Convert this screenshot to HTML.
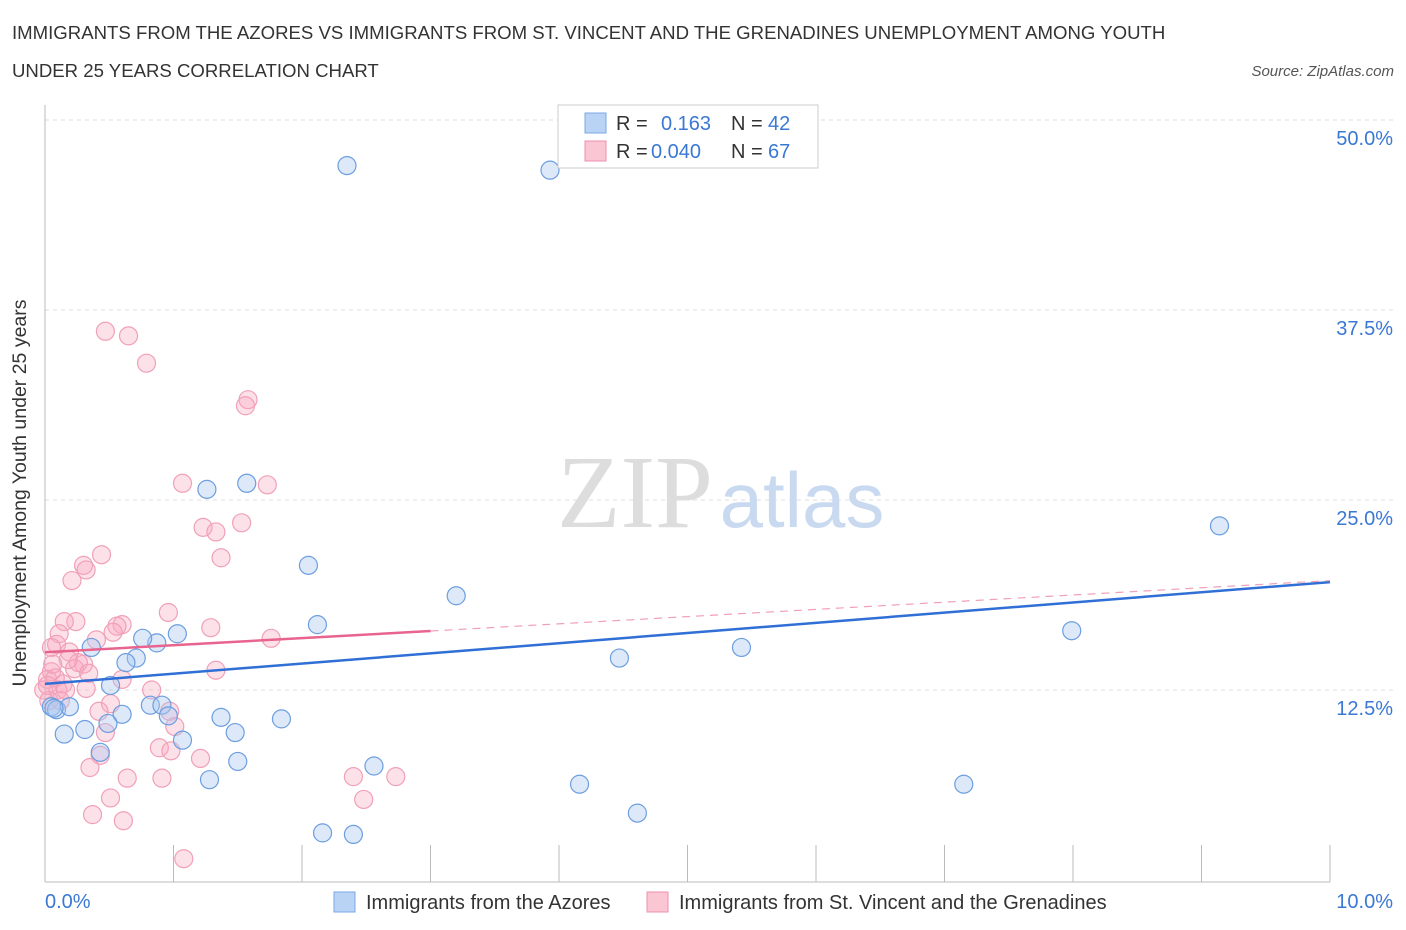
<!DOCTYPE html>
<html><head><meta charset="utf-8"><style>
body{margin:0;background:#fff;font-family:"Liberation Sans",sans-serif;}
#wrap{position:relative;width:1406px;height:930px;overflow:hidden;}
</style></head><body>
<div id="wrap">
<svg id="chart" width="1406" height="930" xmlns="http://www.w3.org/2000/svg">
<text x="12" y="39" font-size="18.6" fill="#333">IMMIGRANTS FROM THE AZORES VS IMMIGRANTS FROM ST. VINCENT AND THE GRENADINES UNEMPLOYMENT AMONG YOUTH</text>
<text x="12" y="77" font-size="18.6" fill="#333">UNDER 25 YEARS CORRELATION CHART</text>
<text x="1394" y="76" font-size="15" fill="#555" font-style="italic" text-anchor="end">Source: ZipAtlas.com</text>
<text x="26" y="493" font-size="19.5" fill="#333" text-anchor="middle" transform="rotate(-90 26 493)">Unemployment Among Youth under 25 years</text>
<g id="grid"></g>
<text x="635" y="527" font-size="104" fill="#ddd" font-family="Liberation Serif,serif" text-anchor="middle">ZIP</text>
<text x="802" y="527" font-size="78" fill="#c9daf0" text-anchor="middle">atlas</text>
<g id="marks"></g>
<g id="lines"></g>
<g>
<rect x="558" y="105" width="260" height="63" fill="#fff" stroke="#ccc"/>
<rect x="585" y="113" width="21" height="20" fill="#b9d3f5" stroke="#7aa7e6"/>
<rect x="585" y="141" width="21" height="20" fill="#fbc6d4" stroke="#ee8fab"/>
<text x="616" y="130" font-size="20" fill="#333">R =</text><text x="661" y="130" font-size="20" fill="#3a78d4">0.163</text>
<text x="731" y="130" font-size="20" fill="#333">N =</text><text x="768" y="130" font-size="20" fill="#3a78d4">42</text>
<text x="616" y="158" font-size="20" fill="#333">R =</text><text x="651" y="158" font-size="20" fill="#3a78d4">0.040</text>
<text x="731" y="158" font-size="20" fill="#333">N =</text><text x="768" y="158" font-size="20" fill="#3a78d4">67</text>
</g>
<g>
<rect x="334" y="892" width="21" height="20" fill="#b9d3f5" stroke="#7aa7e6"/>
<text x="366" y="909" font-size="20" fill="#333">Immigrants from the Azores</text>
<rect x="647" y="892" width="21" height="20" fill="#fbc6d4" stroke="#ee8fab"/>
<text x="679" y="909" font-size="20" fill="#333">Immigrants from St. Vincent and the Grenadines</text>
</g>
</svg>
</div>
<script>
const xTicks=[0,1,2,3,4,5,6,7,8,9,10];
const yTicks=[12.5,25,37.5,50];
const yTickLabels=["12.5%","25.0%","37.5%","50.0%"];
const azoresX=[2.35,3.93,1.26,1.57,2.05,3.2,9.14,7.99,5.42,4.47,2.12,1.03,0.87,0.76,0.36,0.71,0.63,0.51,0.05,0.09,0.19,0.6,0.82,0.91,0.96,1.37,1.84,0.49,0.31,0.15,1.48,1.07,0.43,1.5,2.56,1.28,4.16,7.15,4.61,2.16,2.4,0.07];
const azoresY=[47.0,46.7,25.7,26.1,20.7,18.7,23.3,16.4,15.3,14.6,16.8,16.2,15.6,15.9,15.3,14.6,14.3,12.8,11.4,11.2,11.4,10.9,11.5,11.5,10.8,10.7,10.6,10.3,9.9,9.6,9.7,9.2,8.4,7.8,7.5,6.6,6.3,6.3,4.4,3.1,3.0,11.3];
const vincentX=[0.47,0.65,0.79,1.58,1.56,1.07,1.73,1.53,1.23,1.33,1.37,0.44,0.3,0.21,0.32,0.96,1.29,0.6,0.56,0.24,0.15,0.11,0.4,0.53,1.76,0.09,0.05,0.19,0.3,0.23,0.26,0.18,0.34,0.05,0.02,0.08,0.14,0.1,0.32,0.83,1.33,0.6,-0.01,0.02,0.51,0.42,0.97,1.01,0.47,0.89,0.98,1.21,0.43,0.35,0.64,0.91,2.4,2.73,0.51,2.48,0.37,0.61,1.08,0.03,0.12,0.16,0.06];
const vincentY=[36.1,35.8,34.0,31.6,31.2,26.1,26.0,23.5,23.2,22.9,21.2,21.4,20.7,19.7,20.4,17.6,16.6,16.8,16.7,17.0,17.0,16.2,15.8,16.3,15.9,15.5,15.3,15.0,14.2,13.9,14.3,14.5,13.6,13.7,13.2,13.3,12.9,12.5,12.6,12.5,13.8,13.2,12.5,12.8,11.6,11.1,11.1,10.1,9.7,8.7,8.5,8.0,8.2,7.4,6.7,6.7,6.8,6.8,5.4,5.3,4.3,3.9,1.4,11.8,11.8,12.5,14.2];
const azoresTrend=[12.9,19.6];
const vincentTrend=[14.98,16.38,19.7];
const NS="http://www.w3.org/2000/svg";
const X0=45,X1=1330,Y0=880,YS=15.2;
function sx(v){return X0+(X1-X0)*v/10;}
function sy(v){return Y0-v*YS;}
function mk(t,a,p){const e=document.createElementNS(NS,t);for(const k in a)e.setAttribute(k,a[k]);p.appendChild(e);return e;}
const grid=document.getElementById('grid');
yTicks.forEach((t,i)=>{
 const l=mk('line',{x1:X0,x2:1395,y1:sy(t),y2:sy(t),stroke:'#ddd','stroke-dasharray':'4,4'},grid);
 
 
 const tx=mk('text',{x:1393,y:sy(t)+25,'font-size':20,fill:'#3a78d4','text-anchor':'end'},grid);
 tx.textContent=yTickLabels[i];
 
 
});
const ax=mk('line',{x1:X0,x2:X1,y1:882,y2:882,stroke:'#bbb'},grid);


const ay=mk('line',{x1:X0,x2:X0,y1:105,y2:882,stroke:'#bbb'},grid);


xTicks.forEach(t=>{
 const l=mk('line',{x1:sx(t),x2:sx(t),y1:845,y2:882,stroke:'#bbb'},grid);
 
 
});
const xl0=mk('text',{x:45,y:908,'font-size':20,fill:'#3a78d4'},grid);xl0.textContent='0.0%';


const xl1=mk('text',{x:1393,y:908,'font-size':20,fill:'#3a78d4','text-anchor':'end'},grid);xl1.textContent='10.0%';


const marks=document.getElementById('marks');
vincentX.forEach((v,i)=>{
 const c=mk('circle',{cx:sx(v),cy:sy(vincentY[i]),r:9,fill:'rgba(248,170,192,0.35)',stroke:'#f0a0b8','stroke-width':1.2},marks);
 
 
});
azoresX.forEach((v,i)=>{
 const c=mk('circle',{cx:sx(v),cy:sy(azoresY[i]),r:9,fill:'rgba(170,200,240,0.4)',stroke:'#6c9ee0','stroke-width':1.2},marks);
 
 
});
const lines=document.getElementById('lines');
const bl=mk('line',{x1:sx(0),y1:sy(azoresTrend[0]),x2:sx(10),y2:sy(azoresTrend[1]),stroke:'#2f6fd6','stroke-width':2.5},lines);


const pl=mk('line',{x1:sx(0),y1:sy(vincentTrend[0]),x2:sx(3),y2:sy(vincentTrend[1]),stroke:'#e8648e','stroke-width':2.5},lines);


const pd=mk('line',{x1:sx(3),y1:sy(vincentTrend[1]),x2:sx(10),y2:sy(vincentTrend[2]),stroke:'#f0a0b8','stroke-width':1.2,'stroke-dasharray':'8,6'},lines);


</script>
</body></html>
